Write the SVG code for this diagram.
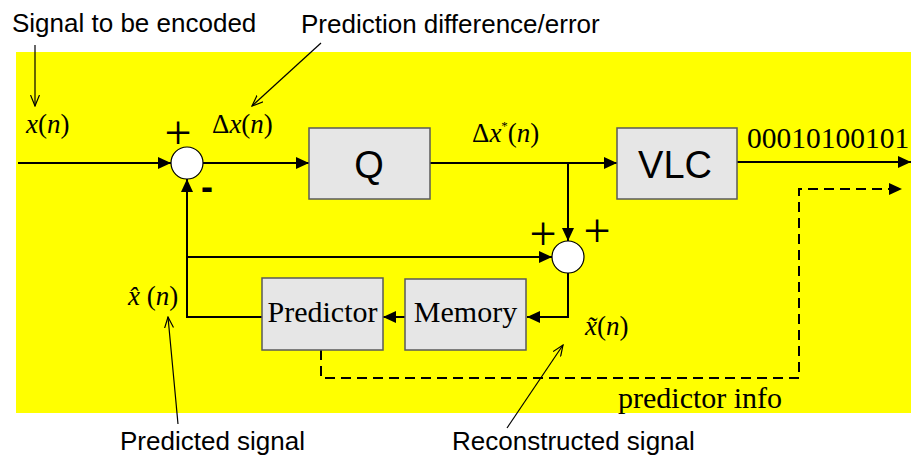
<svg xmlns="http://www.w3.org/2000/svg" width="911" height="458" viewBox="0 0 911 458">
<defs>
<style>
.bg{fill:#ffff00}
.box{fill:#e6e6e6;stroke:#5a5a5a;stroke-width:1.5}
.sum{fill:#fff;stroke:#000;stroke-width:1.2}
.wire{fill:none;stroke:#000;stroke-width:2}
.dash{stroke-dasharray:10 6}
.note{fill:none;stroke:#000;stroke-width:1.2}
.sans{font-family:"Liberation Sans",Arial,sans-serif;font-size:26px;fill:#000}
.geo{font-family:"Liberation Sans",Arial,sans-serif;font-size:38px;fill:#000;text-anchor:middle}
.serif{font-family:"Liberation Serif","Times New Roman",serif;fill:#000}
.it{font-style:italic}
.sign{font-family:"Liberation Serif","Times New Roman",serif;font-size:48px;fill:#000;text-anchor:middle}
.minus{font-family:"Liberation Sans",Arial,sans-serif;font-size:36px;font-weight:bold;fill:#000;text-anchor:middle}
</style>
<marker id="ah" markerUnits="userSpaceOnUse" markerWidth="14" markerHeight="12" refX="13" refY="6" orient="auto">
<path d="M0,0 L13,6 L0,12 Z" fill="#000"/>
</marker>
<marker id="oh" markerUnits="userSpaceOnUse" markerWidth="12" markerHeight="10" refX="11" refY="5" orient="auto">
<path d="M0,0.5 L11,5 L0,9.5" fill="none" stroke="#000" stroke-width="1.2"/>
</marker>
</defs>

<rect class="bg" x="16" y="52" width="895" height="361"/>

<g id="connectors">
<path class="wire" d="M18 163 H171" marker-end="url(#ah)"/>
<path class="wire" d="M203 163 H309" marker-end="url(#ah)"/>
<path class="wire" d="M430 163 H617" marker-end="url(#ah)"/>
<path class="wire" d="M568 163 V241" marker-end="url(#ah)"/>
<path class="wire" d="M737 162 H911" marker-end="url(#ah)"/>
<path class="wire" d="M568 273 V317 H527" marker-end="url(#ah)"/>
<path class="wire" d="M405 317 H383" marker-end="url(#ah)"/>
<path class="wire" d="M262 317 H187 V179" marker-end="url(#ah)"/>
<path class="wire" d="M187 257 H552" marker-end="url(#ah)"/>
<path class="wire dash" d="M321 350 V378 H799 V189 H902" marker-end="url(#ah)"/>
<path class="note" d="M35 45 V106" marker-end="url(#oh)"/>
<path class="note" d="M321 43 L252 106" marker-end="url(#oh)"/>
<path class="note" d="M178 424 L168 317" marker-end="url(#oh)"/>
<path class="note" d="M507 428 L563 345" marker-end="url(#oh)"/>
</g>

<g id="sum1">
<circle class="sum" cx="187" cy="163" r="16"/>
<text class="sign" x="178" y="149">+</text>
<text class="minus" x="207" y="199">-</text>
</g>

<g id="sum2">
<circle class="sum" cx="568" cy="257" r="16"/>
<text class="sign" x="543" y="250">+</text>
<text class="sign" x="597" y="247">+</text>
</g>

<g id="Q">
<rect class="box" x="309" y="128" width="121" height="71"/>
<text class="geo" x="369" y="178">Q</text>
</g>

<g id="VLC">
<rect class="box" x="617" y="128" width="120" height="71"/>
<text class="geo" x="675" y="178">VLC</text>
</g>

<g id="Predictor">
<rect class="box" x="262" y="278" width="121" height="72"/>
<text class="serif" x="322.5" y="322" font-size="30" text-anchor="middle">Predictor</text>
</g>

<g id="Memory">
<rect class="box" x="405" y="279" width="121" height="71"/>
<text class="serif" x="465.5" y="322" font-size="30" text-anchor="middle">Memory</text>
</g>

<g id="labels">
<text class="sans" x="12" y="32">Signal to be encoded</text>
<text class="sans" x="301" y="33">Prediction difference/error</text>
<text class="sans" x="120" y="450">Predicted signal</text>
<text class="sans" x="452" y="450">Reconstructed signal</text>

<text class="serif" x="26" y="133" font-size="27"><tspan class="it">x</tspan>(<tspan class="it">n</tspan>)</text>
<text class="serif" x="212" y="133" font-size="27">Δ<tspan class="it">x</tspan>(<tspan class="it">n</tspan>)</text>
<text class="serif" x="472" y="142" font-size="27">Δ<tspan class="it">x</tspan><tspan font-size="13" dy="-12">*</tspan><tspan dy="12">(</tspan><tspan class="it">n</tspan>)</text>
<text class="serif" x="747" y="148" font-size="29.5">00010100101</text>

<text class="serif" x="128" y="305" font-size="27"><tspan class="it">x̂</tspan> (<tspan class="it">n</tspan>)</text>

<text class="serif" x="585" y="335" font-size="27"><tspan class="it">x̃</tspan>(<tspan class="it">n</tspan>)</text>

<text class="serif" x="618" y="408" font-size="30">predictor info</text>
</g>
</svg>
